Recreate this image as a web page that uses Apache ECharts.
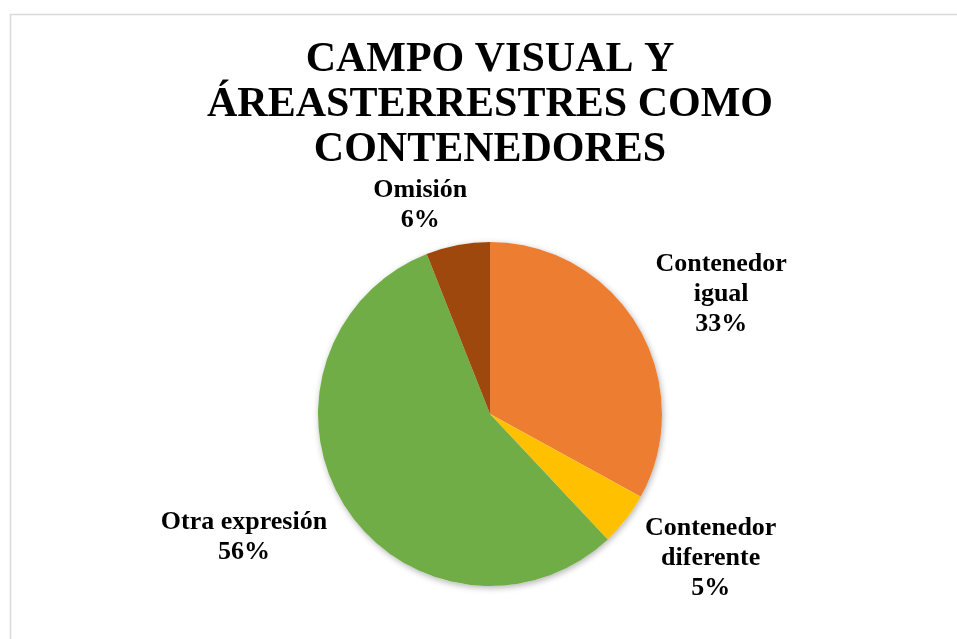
<!DOCTYPE html>
<html>
<head>
<meta charset="utf-8">
<title>Campo visual</title>
<script src="https://cdn.jsdelivr.net/npm/echarts@6/dist/echarts.min.js"></script>
<style>
  html, body { margin: 0; padding: 0; background: #fff; }
  #main { width: 957px; height: 639px; }
</style>
</head>
<body>
<div id="main"></div>
<script>
// datos del grafico
const categories = ['Contenedor igual', 'Contenedor diferente', 'Otra expresión', 'Omisión']
const labelTexts = ['Contenedor\nigual', 'Contenedor\ndiferente', 'Otra expresión', 'Omisión']
const values = [33, 5, 56, 6]
const titleText = 'CAMPO VISUAL Y\nÁREASTERRESTRES COMO\nCONTENEDORES'

const colors = ['#ED7D31', '#FFC000', '#70AD47', '#9E480E']
const serif = '"Liberation Serif", "Times New Roman", serif'

// largo de las lineas (ocultas) para ubicar cada etiqueta
const lineLen = [64, 63, 59, 40]
const lineLen2 = [23, 30, 46, 25]

var myChart = echarts.init(document.getElementById('main'))

const pieData = values.map(function (v, i) {
  return {
    name: categories[i],
    value: v,
    labelLine: { length: lineLen[i], length2: lineLen2[i] }
  }
})

var option = {
  color: colors,
  animation: false,
  title: {
    text: titleText,
    left: 485,
    top: 33,
    textAlign: 'center',
    textStyle: {
      fontFamily: serif,
      fontSize: 42,
      fontWeight: 'bold',
      color: '#000',
      lineHeight: 45
    }
  },
  graphic: [
    {
      type: 'rect',
      shape: { x: 10.5, y: 14.5, width: 1000, height: 700 },
      style: { fill: 'none', stroke: '#D9D9D9', lineWidth: 1.5 },
      silent: true
    }
  ],
  series: [
    {
      // sombra del pastel
      type: 'pie',
      center: [490, 414],
      radius: 172,
      silent: true,
      label: { show: false },
      data: [{ value: 1, itemStyle: { color: '#fff' } }],
      itemStyle: {
        shadowBlur: 6,
        shadowColor: 'rgba(0,0,0,0.3)',
        shadowOffsetX: 1,
        shadowOffsetY: 2
      }
    },
    {
      type: 'pie',
      center: [490, 414],
      radius: 172,
      startAngle: 90,
      clockwise: true,
      avoidLabelOverlap: false,
      itemStyle: { borderWidth: 0 },
      label: {
        show: true,
        position: 'outside',
        distance: 5,
        fontFamily: serif,
        fontSize: 26,
        fontWeight: 'bold',
        color: '#000',
        lineHeight: 30,
        formatter: function (p) {
          return labelTexts[p.dataIndex] + '\n' + p.percent.toFixed(0) + '%'
        }
      },
      labelLine: { show: false },
      labelLayout: { align: 'center', verticalAlign: 'middle' },
      emphasis: { disabled: true },
      data: pieData
    }
  ]
}

myChart.setOption(option)
</script>
</body>
</html>
